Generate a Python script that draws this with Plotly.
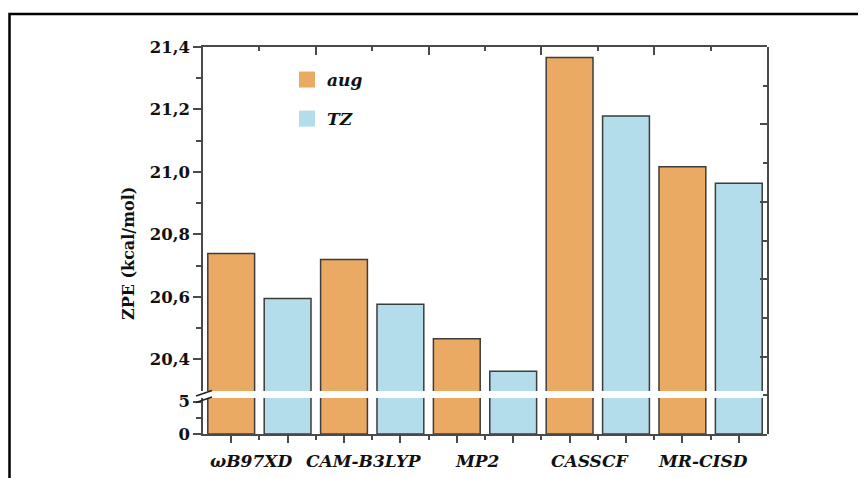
import plotly.graph_objects as go

# ---------------- data ----------------
categories = ["ωB97XD", "CAM-B3LYP", "MP2", "CASSCF", "MR-CISD"]
series_names = ["aug", "TZ"]
zpe_aug = [20.739, 20.720, 20.466, 21.366, 21.017]
zpe_tz = [20.595, 20.577, 20.362, 21.179, 20.964]
upper_tick_vals = [20.4, 20.6, 20.8, 21.0, 21.2, 21.4]
upper_minor_vals = [20.5, 20.7, 20.9, 21.1, 21.3]
lower_tick_vals = [0, 5]
lower_minor_vals = [2.5]
y_title = "ZPE (kcal/mol)"

# ---------------- styling / layout constants ----------------
OFF = 8                      # page body margin of the browser
W, H = 866 - OFF, 478 - OFF
PL, PR, PT, PB = 203, 767, 47, 434   # plot area in screen pixels
ML, MT = PL - OFF, PT - OFF
MR, MB = W - (PR - OFF), H - (PB - OFF)
PW, PH = PR - PL, PB - PT
ORANGE = "#EBAA64"
BLUE = "#B3DDEA"
EDGE = "#3c3c3c"
AXC = "#4a4a4a"
FONT = "DejaVu Serif"
BAR_W = 0.83


def px_x(p):
    return (p - PL) / PW


def px_y(p):
    return (PB - p) / PH


n = len(categories)
aug_x = [2 * i for i in range(n)]
tz_x = [2 * i + 1 for i in range(n)]
group_centers = [2 * i + 0.5 for i in range(n)]
nbars = 2 * n

lower_dom = [0, px_y(398)]
upper_dom = [px_y(391), 1]

fig = go.Figure()

for xa, ya in (("x", "y"), ("x2", "y2")):
    fig.add_trace(go.Bar(x=aug_x, y=zpe_aug, width=BAR_W, marker=dict(color=ORANGE, line=dict(color=EDGE, width=1.5)),
                         xaxis=xa, yaxis=ya, showlegend=False, name=series_names[0]))
    fig.add_trace(go.Bar(x=tz_x, y=zpe_tz, width=BAR_W, marker=dict(color=BLUE, line=dict(color=EDGE, width=1.5)),
                         xaxis=xa, yaxis=ya, showlegend=False, name=series_names[1]))

# legend entries
for nm, col in zip(series_names, (ORANGE, BLUE)):
    fig.add_trace(go.Scatter(x=[None], y=[None], mode="markers", name=nm, legendgroup=nm,
                             marker=dict(symbol="square", size=16, color=col, line=dict(width=0)),
                             xaxis="x2", yaxis="y2"))

# invisible helper trace for the right-hand frame axis
fig.add_trace(go.Scatter(x=[None], y=[None], xaxis="x3", yaxis="y3", showlegend=False, hoverinfo="skip"))

tickfont = dict(family=FONT, size=16.5, color="#111", weight="bold")
xr = [-0.5, nbars - 0.5]

fig.update_layout(
    width=W, height=H,
    margin=dict(l=ML, r=MR, t=MT, b=MB),
    paper_bgcolor="white", plot_bgcolor="rgba(0,0,0,0)",
    separators=", ",
    barmode="overlay",
    xaxis=dict(domain=[0, 1], anchor="y", range=xr, showline=True, linecolor=AXC, linewidth=1.5,
               showgrid=False, zeroline=False, showticklabels=False,
               ticks="outside", tickvals=list(range(nbars)), ticklen=7, tickwidth=1.5, tickcolor=AXC,
               minor=dict(tickvals=[i + 0.5 for i in range(nbars - 1)], ticks="outside", ticklen=4,
                          tickwidth=1.5, tickcolor=AXC, showgrid=False)),
    xaxis2=dict(domain=[0, 1], anchor="y2", matches="x", side="top", showline=True, linecolor=AXC, linewidth=1.5,
                showgrid=False, zeroline=False, showticklabels=False,
                ticks="inside", tickvals=[-0.5] + [2 * i + 1.5 for i in range(n)], ticklen=8, tickwidth=1.5,
                tickcolor=AXC,
                minor=dict(tickvals=[2 * i + 0.5 for i in range(n)], ticks="inside", ticklen=4,
                           tickwidth=1.5, tickcolor=AXC, showgrid=False)),
    yaxis=dict(domain=lower_dom, anchor="x", range=[0, 5.57], showline=True, linecolor=AXC, linewidth=1.5,
               showgrid=False, zeroline=False, ticks="outside", tickvals=lower_tick_vals,
               ticktext=[str(v) for v in lower_tick_vals], ticklen=8, tickwidth=1.5, tickcolor=AXC,
               tickfont=tickfont,
               minor=dict(tickvals=lower_minor_vals, ticks="outside", ticklen=5, tickwidth=1.5, tickcolor=AXC,
                          showgrid=False)),
    yaxis2=dict(domain=upper_dom, anchor="x2", range=[20.299, 21.4], showline=True, linecolor=AXC, linewidth=1.5,
                showgrid=False, zeroline=False, ticks="outside", tickvals=upper_tick_vals, tickformat=".1f",
                ticklen=8, tickwidth=1.5, tickcolor=AXC, tickfont=tickfont,
                minor=dict(tickvals=upper_minor_vals, ticks="outside", ticklen=5, tickwidth=1.5, tickcolor=AXC,
                           showgrid=False)),
    xaxis3=dict(domain=[0, 1], anchor="y3", range=[0, 1], visible=False),
    yaxis3=dict(domain=[0, 1], anchor="x3", side="right", range=[0, 10], showline=True, linecolor=AXC,
                linewidth=1.5, showgrid=False, zeroline=False, showticklabels=False,
                ticks="inside", tickvals=[0, 2, 4, 6, 8], ticklen=7, tickwidth=1.5, tickcolor=AXC,
                minor=dict(tickvals=[1, 3, 5, 7, 9], ticks="inside", ticklen=4, tickwidth=1.5, tickcolor=AXC,
                           showgrid=False)),
    legend=dict(x=px_x(287), y=px_y(62), xanchor="left", yanchor="top", bgcolor="rgba(0,0,0,0)",
                font=dict(family=FONT, size=17, color="#111", weight="bold", style="italic"),
                tracegroupgap=14, itemsizing="trace"),
    showlegend=True,
)

# category labels under each group
for c, gx in zip(categories, group_centers):
    fig.add_annotation(x=gx, y=px_y(461), xref="x", yref="paper", text=c, showarrow=False,
                       xanchor="center", yanchor="middle", xshift=-8,
                       font=dict(family=FONT, size=17, color="#111", weight="bold", style="italic"))

# y-axis title
fig.add_annotation(x=px_x(128), y=px_y(254), xref="paper", yref="paper", text=y_title, showarrow=False,
                   textangle=-90, xanchor="center", yanchor="middle",
                   font=dict(family=FONT, size=16, color="#111", weight="bold"))

# axis break marks
for y0, y1 in ((396, 390.5), (402.5, 397)):
    fig.add_shape(type="line", xref="paper", yref="paper", x0=px_x(196), x1=px_x(212), y0=px_y(y0), y1=px_y(y1),
                  line=dict(color="#222", width=1.5))

# outer frame
fig.add_shape(type="rect", xref="paper", yref="paper", x0=px_x(9.5), x1=px_x(890), y0=px_y(500), y1=px_y(14),
              line=dict(color="black", width=2.5), fillcolor="rgba(0,0,0,0)", layer="above")

fig.write_html("out.html")
